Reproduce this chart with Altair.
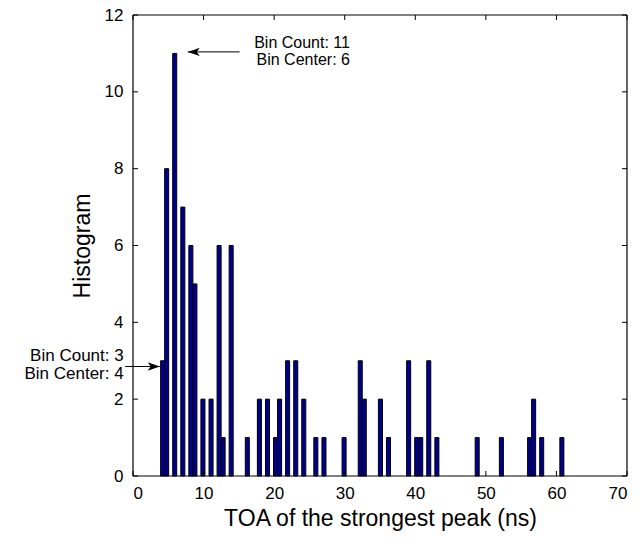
import altair as alt
import pandas as pd

# ---- data ----
bin_centers = [4.20, 4.77, 5.91, 7.06, 8.20, 8.77, 9.91, 11.06, 12.20, 12.77, 13.91,
               16.20, 17.91, 19.06, 20.20, 20.77, 21.91, 23.06, 24.20, 25.91, 27.06,
               29.91, 32.20, 32.77, 35.06, 36.20, 39.06, 40.20, 40.77, 41.91, 43.06,
               48.77, 52.20, 56.20, 56.77, 57.91, 60.77]
bin_counts = [3, 8, 11, 7, 6, 5, 2, 2, 6, 1, 6,
              1, 2, 2, 1, 2, 3, 3, 2, 1, 1,
              1, 3, 2, 2, 1, 3, 1, 1, 3, 1,
              1, 1, 1, 2, 1, 1]
x_ticks = [0, 10, 20, 30, 40, 50, 60, 70]
y_ticks = [0, 2, 4, 6, 8, 10, 12]

# data tips (annotation anchors, in data units)
tip1_lines = ["Bin Count: 11", "Bin Center: 6"]
tip1_x = [30.74, 30.74]
tip1_y = [11.14, 10.71]
tip2_lines = ["Bin Count: 3", "Bin Center: 4"]
tip2_x = [-1.32, -1.32]
tip2_y = [2.99, 2.535]
arrow_tail_x = [15.1, -1.1]
arrow_tip_x = [7.76, 3.79]
arrow_y = [11.04, 2.85]

BIN_W = 0.5714
W, H = 494, 461
TICK = 5
FONT = "Liberation Sans"
XT = "TOA of the strongest peak (ns)"
YT = "Histogram"

bars_df = pd.DataFrame({"center": bin_centers, "count": bin_counts})
xt_df = pd.DataFrame({"t": x_ticks})
yt_df = pd.DataFrame({"t": y_ticks})
tip1_df = pd.DataFrame({"text": tip1_lines, "x": tip1_x, "y": tip1_y})
tip2_df = pd.DataFrame({"text": tip2_lines, "x": tip2_x, "y": tip2_y})
arr_df = pd.DataFrame({"tail": arrow_tail_x, "tip": arrow_tip_x, "y": arrow_y,
                       "dir": ["left", "right"]})
one = pd.DataFrame({"k": [0]})

xs = alt.Scale(domain=[0, 70], nice=False)
ys = alt.Scale(domain=[0, 12], nice=False)

bars = alt.Chart(bars_df).transform_calculate(
    x0=f"datum.center - {BIN_W/2}", x1=f"datum.center + {BIN_W/2}"
).mark_rect(fill="#00008F", stroke="black", strokeWidth=1).encode(
    x=alt.X("x0:Q", scale=xs, axis=alt.Axis(values=x_ticks), title=XT),
    x2="x1:Q",
    y=alt.Y("count:Q", scale=ys, axis=alt.Axis(values=y_ticks), title=YT),
    y2=alt.datum(0),
)

tick_bottom = alt.Chart(xt_df).mark_rule(color="black", strokeWidth=1).encode(
    x=alt.X("t:Q", scale=xs, title=XT), y=alt.value(H), y2=alt.value(H - TICK))
tick_top = alt.Chart(xt_df).mark_rule(color="black", strokeWidth=1).encode(
    x=alt.X("t:Q", scale=xs, title=XT), y=alt.value(0), y2=alt.value(TICK))
tick_left = alt.Chart(yt_df).mark_rule(color="black", strokeWidth=1).encode(
    y=alt.Y("t:Q", scale=ys, title=YT), x=alt.value(0), x2=alt.value(TICK))
tick_right = alt.Chart(yt_df).mark_rule(color="black", strokeWidth=1).encode(
    y=alt.Y("t:Q", scale=ys, title=YT), x=alt.value(W), x2=alt.value(W - TICK))

frame_style = dict(color="black", strokeWidth=1.2)
frame_top = alt.Chart(one).mark_rule(**frame_style).encode(
    x=alt.value(0), x2=alt.value(W), y=alt.value(0))
frame_bottom = alt.Chart(one).mark_rule(**frame_style).encode(
    x=alt.value(0), x2=alt.value(W), y=alt.value(H))
frame_left = alt.Chart(one).mark_rule(**frame_style).encode(
    x=alt.value(0), y=alt.value(0), y2=alt.value(H))
frame_right = alt.Chart(one).mark_rule(**frame_style).encode(
    x=alt.value(W), y=alt.value(0), y2=alt.value(H))

arrow_lines = alt.Chart(arr_df).mark_rule(color="black", strokeWidth=1).encode(
    x=alt.X("tail:Q", scale=xs, title=XT), x2="tip:Q",
    y=alt.Y("y:Q", scale=ys, title=YT))
head_left = alt.Chart(arr_df).transform_filter("datum.dir == 'left'").mark_point(
    shape="M0,0L4,-1.4L3,0L4,1.4Z", size=36, filled=True, color="black", opacity=1
).encode(x=alt.X("tip:Q", scale=xs, title=XT), y=alt.Y("y:Q", scale=ys, title=YT))
head_right = alt.Chart(arr_df).transform_filter("datum.dir == 'right'").mark_point(
    shape="M0,0L-4,-1.4L-3,0L-4,1.4Z", size=36, filled=True, color="black", opacity=1
).encode(x=alt.X("tip:Q", scale=xs, title=XT), y=alt.Y("y:Q", scale=ys, title=YT))

text1 = alt.Chart(tip1_df).mark_text(align="right", baseline="alphabetic", font=FONT,
                                      fontSize=16, color="black").encode(
    x=alt.X("x:Q", scale=xs, title=XT), y=alt.Y("y:Q", scale=ys, title=YT), text="text:N")
text2 = alt.Chart(tip2_df).mark_text(align="right", baseline="alphabetic", font=FONT,
                                      fontSize=17, color="black").encode(
    x=alt.X("x:Q", scale=xs, title=XT), y=alt.Y("y:Q", scale=ys, title=YT), text="text:N")

chart = alt.layer(
    bars, tick_bottom, tick_top, tick_left, tick_right,
    frame_top, frame_bottom, frame_left, frame_right,
    arrow_lines, head_left, head_right, text1, text2
).properties(
    width=W, height=H,
    autosize=alt.AutoSizeParams(type="none"),
    padding={"left": 133, "top": 15, "right": 13, "bottom": 66},
    background="white",
).configure_view(
    stroke=None
).configure_axis(
    domain=False, ticks=False, grid=False,
    labelFont=FONT, labelFontSize=17, labelColor="black",
    titleFont=FONT, titleFontSize=23, titleFontWeight="normal", titleColor="black",
).configure_axisX(
    labelPadding=9, titlePadding=6,
).configure_axisY(
    labelPadding=10, titlePadding=10,
)

chart.save("out.html", embed_options={"renderer": "svg", "actions": False})
